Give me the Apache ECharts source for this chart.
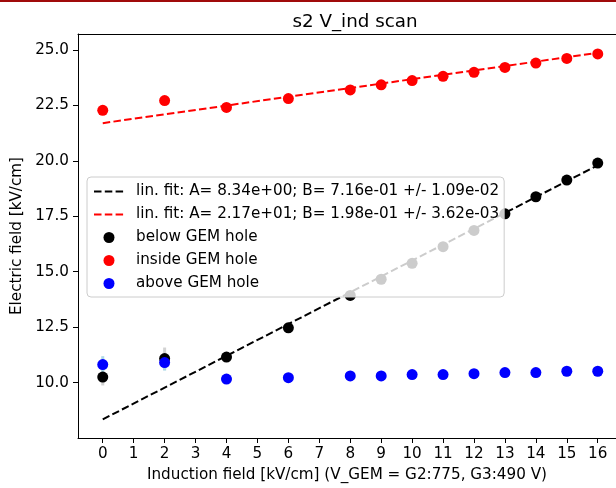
<!DOCTYPE html>
<html>
<head>
<meta charset="utf-8">
<script src="https://cdn.jsdelivr.net/npm/echarts@6/dist/echarts.min.js"></script>
<style>
  html, body { margin: 0; padding: 0; background: #fff; }
  #chart { width: 616px; height: 488px; }
</style>
</head>
<body>
<div id="chart"></div>
<script>
// induction field values (kV/cm)
const xVals = [0, 2, 4, 6, 8, 9, 10, 11, 12, 13, 14, 15, 16];
// electric field below / inside / above the GEM hole
const belowVals  = [10.25, 11.08, 11.15, 12.47, 13.93, 14.66, 15.38, 16.13, 16.86, 17.61, 18.38, 19.13, 19.90];
const insideVals = [22.28, 22.72, 22.41, 22.81, 23.20, 23.43, 23.62, 23.81, 23.99, 24.21, 24.41, 24.62, 24.82];
const aboveVals  = [10.81, 10.90, 10.16, 10.22, 10.30, 10.30, 10.36, 10.36, 10.40, 10.45, 10.45, 10.51, 10.51];
// uncertainties
const belowErr  = [0.38, 0.50, 0.10, 0.10, 0.10, 0.10, 0.10, 0.10, 0.10, 0.10, 0.10, 0.10, 0.10];
const insideErr = [0.05, 0.05, 0.05, 0.05, 0.05, 0.05, 0.05, 0.05, 0.05, 0.05, 0.05, 0.05, 0.05];
const aboveErr  = [0.38, 0.36, 0.08, 0.08, 0.08, 0.08, 0.08, 0.08, 0.08, 0.08, 0.08, 0.08, 0.08];
// linear fit end points
const fitX = [0, 16];
const belowFit  = [8.34, 19.80];
const insideFit = [21.70, 24.87];
// axis ticks
const xTicks = [0, 1, 2, 3, 4, 5, 6, 7, 8, 9, 10, 11, 12, 13, 14, 15, 16];
const yTicks = [10, 12.5, 15, 17.5, 20, 22.5, 25];

const fitBlackName = 'lin. fit: A= 8.34e+00; B= 7.16e-01 +/- 1.09e-02';
const fitRedName   = 'lin. fit: A= 2.17e+01; B= 1.98e-01 +/- 3.62e-03';

const font = 'DejaVu Sans';
const fs = 15.2;

function pts(ys) { return xVals.map((x, i) => [x, ys[i]]); }
function errPts(ys, es) { return xVals.map((x, i) => [x, ys[i], es[i]]); }
function fitPts(ys) { return fitX.map((x, i) => [x, ys[i]]); }

function errSeries(ys, es, color) {
    return {
        type: 'custom',
        silent: true,
        z: 2,
        data: errPts(ys, es),
        encode: { x: 0, y: 1 },
        renderItem: function (params, api) {
            const x = api.value(0), y = api.value(1), e = api.value(2);
            const p1 = api.coord([x, y - e]);
            const p2 = api.coord([x, y + e]);
            return {
                type: 'line',
                shape: { x1: p1[0], y1: p1[1], x2: p2[0], y2: p2[1] },
                style: { stroke: color, lineWidth: 3 }
            };
        }
    };
}

function scatter(name, ys, color) {
    return {
        name: name,
        type: 'scatter',
        z: 3,
        symbol: 'circle',
        symbolSize: 11,
        itemStyle: { color: color, opacity: 1 },
        data: pts(ys)
    };
}

function fitLine(name, ys, color) {
    return {
        name: name,
        type: 'line',
        z: 2,
        symbol: 'none',
        showSymbol: false,
        itemStyle: { color: color },
        lineStyle: { color: color, width: 2, type: [7.5, 3.3] },
        data: fitPts(ys)
    };
}

const chart = echarts.init(document.getElementById('chart'));
chart.setOption({
    animation: false,
    textStyle: { fontFamily: font },
    graphic: [{
        type: 'rect',
        left: 0, top: 0,
        shape: { width: 616, height: 2 },
        style: { fill: '#a00a0a' }
    }],
    title: {
        text: 's2 V_ind scan',
        left: 350,
        top: 8,
        textAlign: 'center',
        textStyle: { fontFamily: font, fontSize: 18.3, fontWeight: 'normal', color: '#000' }
    },
    legend: {
        orient: 'vertical',
        left: 87,
        top: 177,
        z: 10,
        padding: [7, 5, 6, 6],
        itemGap: 8,
        itemWidth: 30,
        itemHeight: 11,
        backgroundColor: 'rgba(255,255,255,0.8)',
        borderColor: '#cccccc',
        borderWidth: 1,
        borderRadius: 4,
        textStyle: { fontFamily: font, fontSize: fs, color: '#000', padding: [0, 0, 0, 7] },
        data: [
            { name: fitBlackName, itemStyle: { opacity: 0 } },
            { name: fitRedName, itemStyle: { opacity: 0 } },
            'below GEM hole', 'inside GEM hole', 'above GEM hole'
        ]
    },
    grid: {
        left: 78,
        right: 0,
        top: 34,
        bottom: 48,
        show: false
    },
    xAxis: [{
        type: 'value',
        min: -0.8,
        max: 16.59,
        name: 'Induction field [kV/cm] (V_GEM = G2:775, G3:490 V)',
        nameLocation: 'middle',
        nameGap: 30,
        nameTextStyle: { fontFamily: font, fontSize: fs, color: '#000' },
        splitLine: { show: false },
        axisLine: { show: true, onZero: false, lineStyle: { color: '#000', width: 1 } },
        axisTick: { show: true, length: 5, lineStyle: { color: '#000' }, customValues: xTicks },
        axisLabel: { fontFamily: font, fontSize: fs, color: '#000', margin: 9, customValues: xTicks }
    }, {
        // top frame line only
        type: 'value',
        position: 'top',
        min: -0.8,
        max: 16.59,
        splitLine: { show: false },
        axisLine: { show: true, onZero: false, lineStyle: { color: '#000', width: 1 } },
        axisTick: { show: false },
        axisLabel: { show: false }
    }],
    yAxis: {
        type: 'value',
        min: 7.5,
        max: 25.72,
        name: 'Electric field [kV/cm]',
        nameLocation: 'middle',
        nameGap: 52,
        nameRotate: 90,
        nameTextStyle: { fontFamily: font, fontSize: fs, color: '#000' },
        splitLine: { show: false },
        axisLine: { show: true, onZero: false, lineStyle: { color: '#000', width: 1 } },
        axisTick: { show: true, length: 5, lineStyle: { color: '#000' }, customValues: yTicks },
        axisLabel: {
            fontFamily: font, fontSize: fs, color: '#000', margin: 9,
            customValues: yTicks,
            formatter: v => v.toFixed(1)
        }
    },
    series: [
        fitLine(fitBlackName, belowFit, '#000000'),
        fitLine(fitRedName, insideFit, '#ff0000'),
        errSeries(belowVals, belowErr, '#d3d3d3'),
        errSeries(insideVals, insideErr, '#ffb0b0'),
        errSeries(aboveVals, aboveErr, '#add8e6'),
        scatter('below GEM hole', belowVals, '#000000'),
        scatter('inside GEM hole', insideVals, '#ff0000'),
        scatter('above GEM hole', aboveVals, '#0000ff')
    ]
});
</script>
</body>
</html>
